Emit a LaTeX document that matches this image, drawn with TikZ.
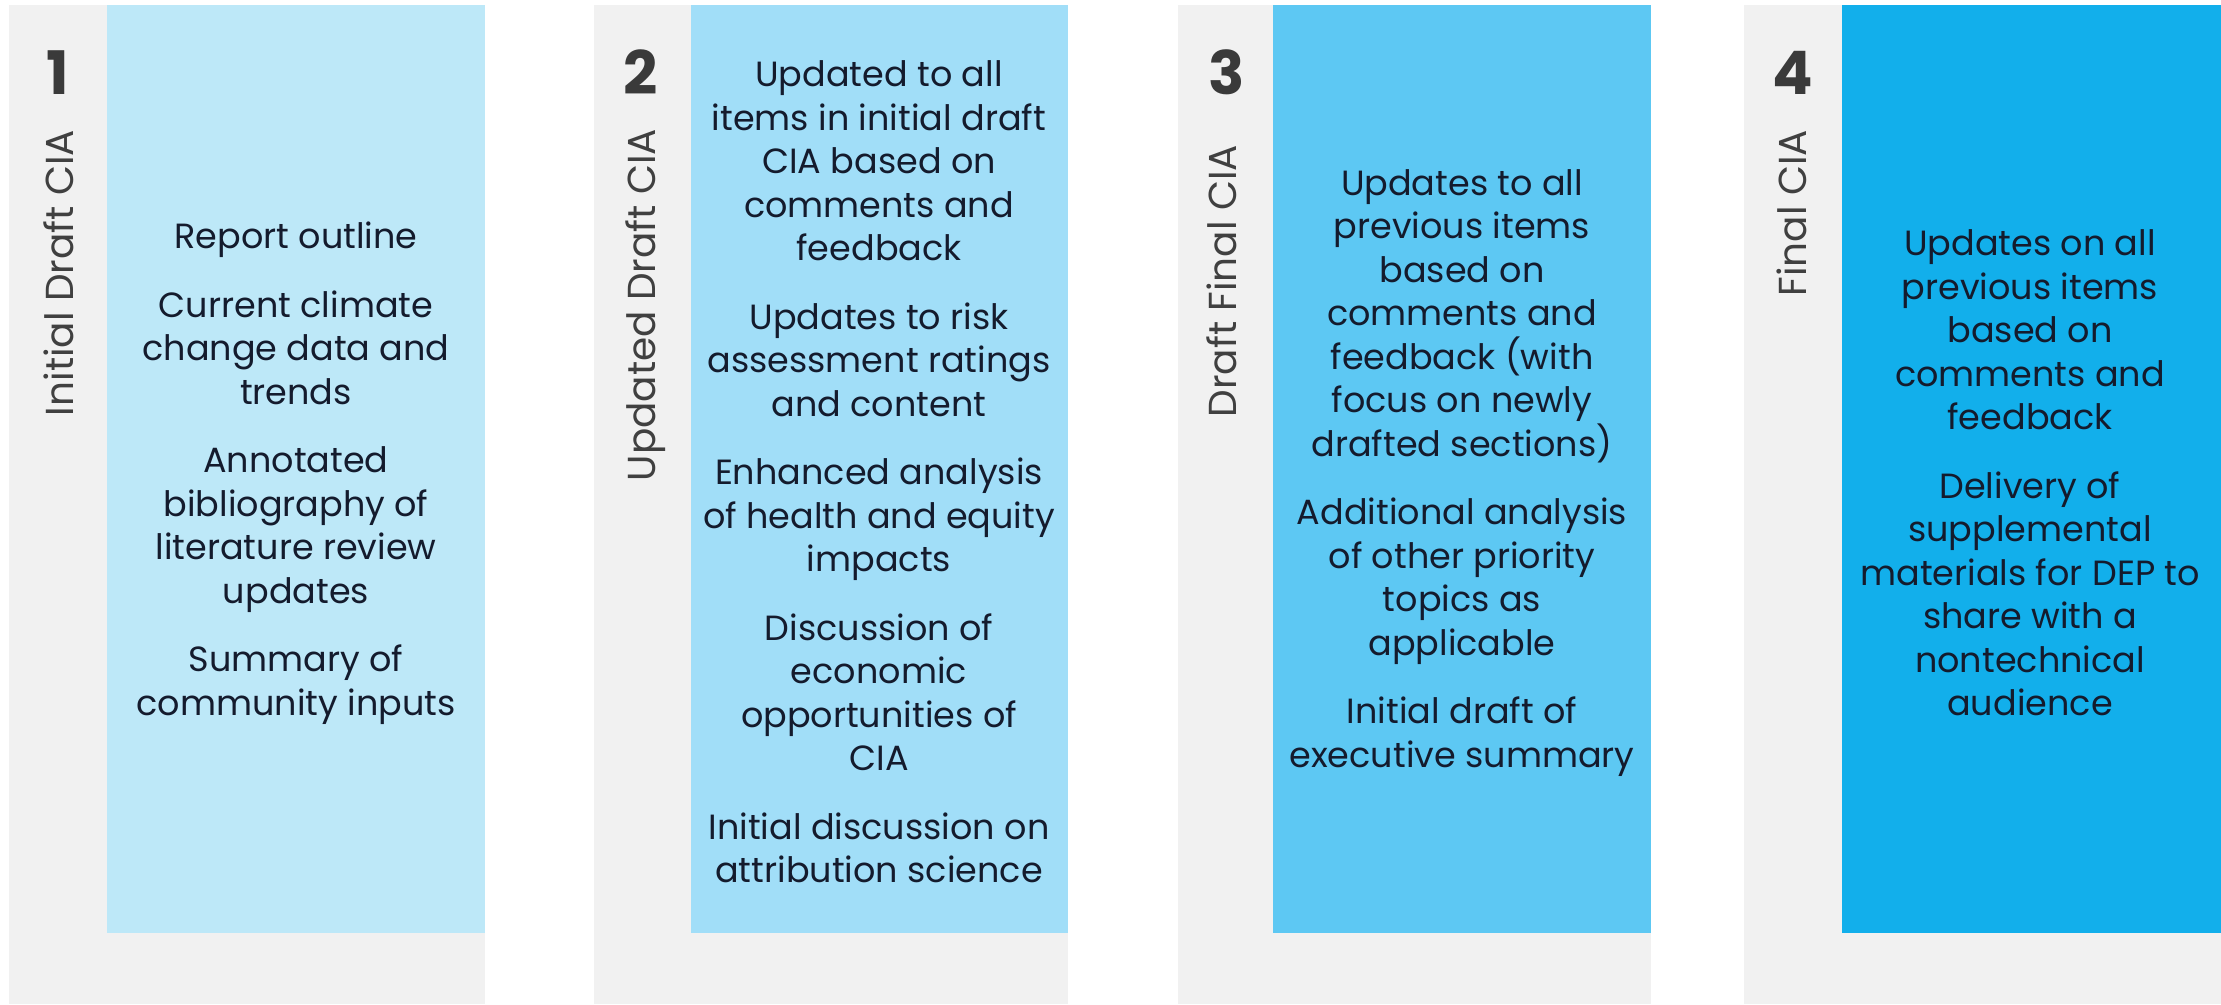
\documentclass[tikz,border=0pt]{standalone}
\usepackage{fontspec}
\setmainfont{Poppins}
\definecolor{bggray}{HTML}{F1F1F1}
\definecolor{blueA}{HTML}{BDE8F8}
\definecolor{blueB}{HTML}{A1DEF8}
\definecolor{blueC}{HTML}{5DC8F3}
\definecolor{blueD}{HTML}{12AFEB}
\definecolor{txt}{HTML}{141B2D}
\definecolor{numgray}{HTML}{3A3A3A}
\definecolor{labgray}{HTML}{404040}
\begin{document}
\begin{tikzpicture}[x=1pt,y=-1pt,
  graystrip/.style={fill=bggray,draw=none},
  bodytext/.style={align=center,font=\fontsize{35}{43.5}\selectfont,text=txt,inner sep=0pt},
  numlabel/.style={font=\fontsize{60}{60}\selectfont\bfseries,text=numgray,inner sep=0pt,anchor=base},
  phaselabel/.style={rotate=90,font=\fontsize{39}{39}\selectfont,text=labgray,inner sep=0pt,anchor=base}]
\useasboundingbox (0,0) rectangle (2221,1004);
\fill[white] (0,0) rectangle (2221,1004);
% column backgrounds
\fill[graystrip] (9,5) rectangle (485,1004);
\fill[graystrip] (594,5) rectangle (1068,1004);
\fill[graystrip] (1178,5) rectangle (1651,1004);
\fill[graystrip] (1744,5) rectangle (2221,1004);
% blue boxes
\fill[blueA] (107,5) rectangle (485,933);
\fill[blueB] (691,5) rectangle (1068,933);
\fill[blueC] (1273,5) rectangle (1651,933);
\fill[blueD] (1842,5) rectangle (2221,933);
% numbers
\node[numlabel] (n1) at (58,94) {1};
\node[numlabel] (n2) at (641,94) {2};
\node[numlabel] (n3) at (1227,94) {3};
\node[numlabel] (n4) at (1793,94) {4};
% phase labels
\node[phaselabel] (l1) at (73,273) {Initial Draft CIA};
\node[phaselabel] (l2) at (655,305) {Updated Draft CIA};
\node[phaselabel] (l3) at (1236,281) {Draft Final CIA};
\node[phaselabel] (l4) at (1806,213) {Final CIA};
% body texts
\node[bodytext] (t1) at (296,473) {Report outline\\[25pt]
Current climate\\change data and\\trends\\[25pt]
Annotated\\bibliography of\\literature review\\updates\\[25pt]
Summary of\\community inputs};
\node[bodytext] (t2) at (879,472) {Updated to all\\items in initial draft\\CIA based on\\comments and\\feedback\\[25pt]
Updates to risk\\assessment ratings\\and content\\[25pt]
Enhanced analysis\\of health and equity\\impacts\\[25pt]
Discussion of\\economic\\opportunities of\\CIA\\[25pt]
Initial discussion on\\attribution science};
\node[bodytext] (t3) at (1462,473) {Updates to all\\previous items\\based on\\comments and\\feedback (with\\focus on newly\\drafted sections)\\[25pt]
Additional analysis\\of other priority\\topics as\\applicable\\[25pt]
Initial draft of\\executive summary};
\node[bodytext] (t4) at (2030,473) {Updates on all\\previous items\\based on\\comments and\\feedback\\[25pt]
Delivery of\\supplemental\\materials for DEP to\\share with a\\nontechnical\\audience};
\end{tikzpicture}
\end{document}
